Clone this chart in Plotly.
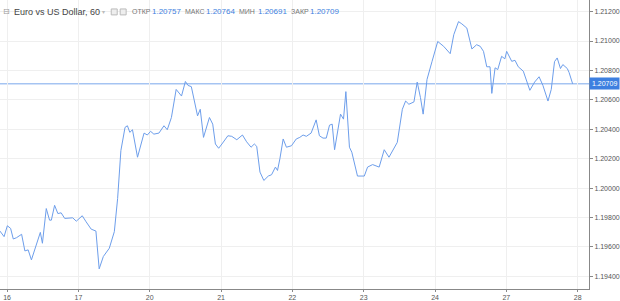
import plotly.graph_objects as go

# time in trading hours from day "16" 00:00 (weekends removed), price
hours = [-2.4, -1.0, 0.1, 1.2, 2.1, 3.2, 4.9, 6.0, 7.1, 8.2, 11.2, 11.9, 13.2, 14.3, 14.9, 16.0, 17.1, 18.2,
         19.4, 21.0, 22.1, 23.3, 25.3, 26.6, 28.3, 29.9, 31.0, 32.4, 34.4, 36.1, 37.2, 38.3, 39.7, 40.5,
         41.3, 42.2, 43.9, 46.1, 47.2, 48.3, 49.4, 51.1, 52.8, 53.9, 55.3, 56.9, 58.7, 60.0, 60.9, 62.0,
         64.1, 65.0, 66.1, 68.1, 69.2, 70.1, 71.2, 72.3, 74.3, 75.6, 77.3, 79.2, 80.6, 82.1, 83.2, 84.0,
         85.1, 86.4, 87.9, 89.0, 90.3, 91.0, 91.8, 92.9, 94.0, 95.7, 97.3, 98.5, 99.6, 100.7, 102.3, 104.0,
         105.1, 106.3, 107.4, 108.5, 109.4, 110.2, 111.3, 112.2, 113.2, 114.0, 115.2, 116.0, 117.9, 120.2,
         121.3, 123.0, 125.2, 126.9, 128.5, 130.2, 131.3, 133.0, 134.1, 135.2, 136.9, 138.0, 139.1, 140.0,
         141.3, 143.0, 144.9, 146.9, 149.1, 150.3, 151.9, 153.0, 154.7, 156.4, 158.0, 159.2, 160.3, 161.4,
         162.5, 163.1, 164.2, 165.1, 166.4, 167.5, 168.1, 169.8, 170.9, 172.0, 173.7, 175.9, 177.5, 179.0,
         180.3, 182.0, 183.1, 184.2, 185.1, 186.2, 187.0, 188.5, 189.1, 190.3]
prices = [1.19708, 1.19670, 1.19744, 1.19726, 1.19654, 1.19663, 1.19686, 1.19573, 1.19580, 1.19512,
          1.19699, 1.19625, 1.19861, 1.19782, 1.19782, 1.19883, 1.19827, 1.19832, 1.19794, 1.19794,
          1.19798, 1.19775, 1.19812, 1.19771, 1.19721, 1.19708, 1.19451, 1.19535, 1.19591, 1.19704,
          1.19929, 1.20255, 1.20413, 1.20424, 1.20379, 1.20397, 1.20210, 1.20374, 1.20361, 1.20386,
          1.20367, 1.20374, 1.20424, 1.20397, 1.20480, 1.20671, 1.20626, 1.20725, 1.20698, 1.20690,
          1.20491, 1.20536, 1.20345, 1.20480, 1.20435, 1.20300, 1.20271, 1.20300, 1.20356, 1.20352,
          1.20329, 1.20361, 1.20315, 1.20278, 1.20300, 1.20284, 1.20109, 1.20052, 1.20082, 1.20091,
          1.20143, 1.20120, 1.20199, 1.20334, 1.20278, 1.20288, 1.20334, 1.20345, 1.20361, 1.20352,
          1.20374, 1.20464, 1.20356, 1.20340, 1.20340, 1.20428, 1.20435, 1.20261, 1.20401, 1.20503,
          1.20469, 1.20656, 1.20278, 1.20244, 1.20082, 1.20082, 1.20143, 1.20160, 1.20143, 1.20261,
          1.20210, 1.20278, 1.20311, 1.20536, 1.20592, 1.20570, 1.20586, 1.20721, 1.20615, 1.20503,
          1.20739, 1.20862, 1.20997, 1.20964, 1.20914, 1.21043, 1.21132, 1.21117, 1.21088, 1.20946,
          1.20975, 1.20964, 1.20930, 1.20825, 1.20825, 1.20644, 1.20818, 1.20806, 1.20896, 1.20879,
          1.20930, 1.20862, 1.20869, 1.20825, 1.20795, 1.20665, 1.20721, 1.20757, 1.20698, 1.20592,
          1.20671, 1.20860, 1.20885, 1.20813, 1.20840, 1.20813, 1.20786, 1.20709]

day_ticks = [0, 24, 48, 72, 96, 120, 144, 168, 192]
day_labels = ["16", "17", "20", "21", "22", "23", "24", "27", "28"]
price_ticks = [1.194, 1.196, 1.198, 1.200, 1.202, 1.204, 1.206, 1.208, 1.210, 1.212]

title = "Euro vs US Dollar, 60"
ohlc_names = ["ОТКР", "МАКС", "МИН", "ЗАКР"]
ohlc_values = ["1.20757", "1.20764", "1.20691", "1.20709"]
last_price = 1.20709

LINE = "#6d9eeb"
BLUE = "#3d7fe0"
W, H = 620, 301
PW = 593
HY = 1 - 12 / 291

fig = go.Figure()
fig.add_trace(go.Scatter(x=hours, y=prices, mode="lines",
                         line=dict(color=LINE, width=1), hoverinfo="skip", showlegend=False))

fig.add_shape(type="line", xref="paper", x0=0, x1=1, yref="y", y0=last_price, y1=last_price,
              line=dict(color="#7aa7ec", width=1), layer="below")

fig.add_annotation(x=1, xref="paper", xanchor="left", y=last_price, yref="y", yanchor="middle",
                   text=f"{last_price:.5f}", showarrow=False, bgcolor=BLUE,
                   font=dict(family="Arial", size=7, color="white"), borderpad=2)

# header text
fig.add_annotation(x=1 / PW, xref="paper", xanchor="left", y=HY, yref="paper",
                   yanchor="middle", text="⊟", showarrow=False,
                   font=dict(family="DejaVu Sans", size=8, color="#999"))
fig.add_annotation(x=12 / PW, xref="paper", xanchor="left", y=HY, yref="paper",
                   yanchor="middle", text=title, showarrow=False,
                   font=dict(family="Arial", size=9, color="#444"))
fig.add_annotation(x=101 / PW, xref="paper", xanchor="left", y=HY, yref="paper",
                   yanchor="middle", text="▾", showarrow=False,
                   font=dict(family="DejaVu Sans", size=6, color="#bbb"))
for px in [112, 121]:
    fig.add_shape(type="rect", xref="paper", yref="paper",
                  x0=px / PW, x1=(px + 6) / PW, y0=1 - 15 / 291, y1=1 - 9 / 291,
                  line=dict(color="#bbb", width=1), fillcolor="#eee")

name_x = [131, 184, 239, 291]
val_x = [151, 205, 258, 310]
for nm, vl, nx, vx in zip(ohlc_names, ohlc_values, name_x, val_x):
    fig.add_annotation(x=nx / PW, xref="paper", xanchor="left", y=HY, yref="paper",
                       yanchor="middle", text=nm, showarrow=False,
                       font=dict(family="Arial", size=7, color="#777"))
    fig.add_annotation(x=vx / PW, xref="paper", xanchor="left", y=HY, yref="paper",
                       yanchor="middle", text=vl, showarrow=False,
                       font=dict(family="Arial", size=8, color=BLUE))

fig.update_layout(
    width=W, height=H,
    margin=dict(l=0, r=W - PW, t=0, b=10),
    paper_bgcolor="white", plot_bgcolor="white",
    xaxis=dict(range=[-2.37, 195.8], tickmode="array", tickvals=day_ticks, ticktext=day_labels,
               showgrid=True, gridcolor="#efefef", gridwidth=1, zeroline=False,
               showline=True, linecolor="#888", linewidth=1,
               ticks="outside", ticklen=2, tickcolor="#888",
               tickfont=dict(family="Arial", size=7, color="#555")),
    yaxis=dict(range=[1.19314, 1.21279], side="right", tickmode="array", tickvals=price_ticks,
               tickformat=".5f", showgrid=True, gridcolor="#efefef", gridwidth=1, zeroline=False,
               showline=True, linecolor="#888", linewidth=1,
               ticks="outside", ticklen=3, tickcolor="#888",
               tickfont=dict(family="Arial", size=7, color="#555")),
)

fig.write_html("out.html")
